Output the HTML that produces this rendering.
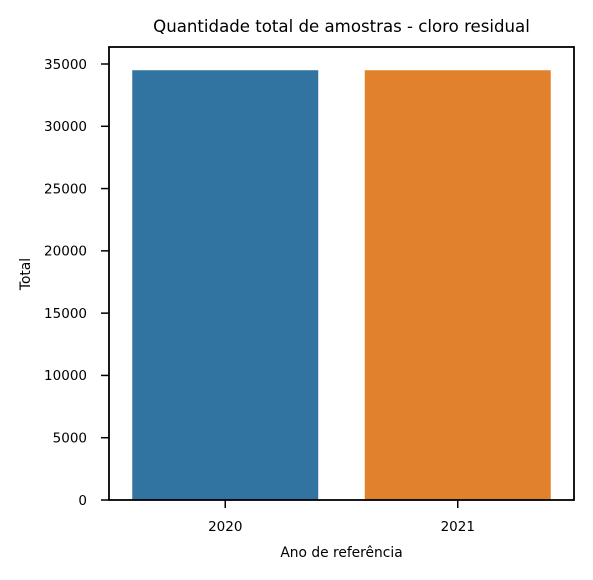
<!DOCTYPE html>
<html><head><meta charset="utf-8"><style>
body{margin:0;background:#fff;}
svg{display:block;font-family:"DejaVu Sans","Liberation Sans",sans-serif;}
</style></head><body>
<svg id="c" width="593" height="580" viewBox="0 0 593 580"></svg>
<script>
const categories = ["2020", "2021"];
const totals = [34500, 34500];
const colors = ["#3274a1", "#e1812c"];
const yTicks = [0, 5000, 10000, 15000, 20000, 25000, 30000, 35000];

const svg = document.getElementById('c');
const NS = 'http://www.w3.org/2000/svg';
const L = 109, R = 574, T = 47, B = 500;
const yMax = 35000 * (B - T) / (500 - 64);
function y(v){ return B - v / yMax * (B - T); }
const band = (R - L) / categories.length;
function x(i){ return L + band * i + band / 2; }
function mk(tag, attrs, text){
  const e = document.createElementNS(NS, tag);
  for (const k in attrs) e.setAttribute(k, attrs[k]);
  if (text !== undefined) e.textContent = text;
  svg.appendChild(e);
  return e;
}
const bw = band * 0.8;
categories.forEach((c, i) => {
  const b = mk('rect', {x: x(i) - bw/2, y: y(totals[i]), width: bw, height: B - y(totals[i]), fill: colors[i]});
  
  
  const t = mk('line', {x1: x(i), x2: x(i), y1: B, y2: B + 8, stroke: '#000', 'stroke-width': 1.5});
  
  
  const l = mk('text', {x: x(i), y: 531, 'font-size': 13.5, 'text-anchor': 'middle'}, c);
  
  
});
yTicks.forEach(v => {
  const t = mk('line', {x1: L - 8, x2: L, y1: y(v), y2: y(v), stroke: '#000', 'stroke-width': 1.5});
  
  
  const l = mk('text', {x: 87, y: y(v) + 4.8, 'font-size': 13.5, 'text-anchor': 'end'}, String(v));
  
  
});
const frame = mk('rect', {x: L, y: T, width: R - L, height: B - T, fill: 'none', stroke: '#000', 'stroke-width': 1.8});


const title = mk('text', {x: 341.5, y: 32, 'font-size': 16.6, 'text-anchor': 'middle'}, 'Quantidade total de amostras - cloro residual');


const xt = mk('text', {x: 341.5, y: 557, 'font-size': 13.8, 'text-anchor': 'middle'}, 'Ano de referência');


const yt = mk('text', {x: 30, y: 274, 'font-size': 13.8, 'text-anchor': 'middle', transform: 'rotate(-90 30 274)'}, 'Total');


</script>
</body></html>
